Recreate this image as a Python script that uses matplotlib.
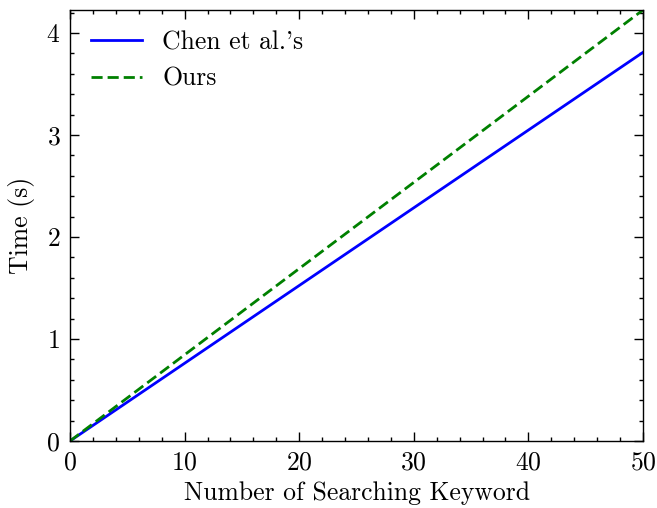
import matplotlib
matplotlib.use("Agg")
import matplotlib.pyplot as plt
from matplotlib.ticker import MultipleLocator

keywords = [0, 10, 20, 30, 40, 50]
chen_time = [0.0, 0.762, 1.524, 2.286, 3.048, 3.81]
ours_time = [0.0, 0.845, 1.69, 2.535, 3.38, 4.225]

plt.rcParams.update({
    "font.family": "serif",
    "font.serif": ["cmr10"],
    "mathtext.fontset": "cm",
    "axes.formatter.use_mathtext": True,
    "font.size": 18.5,
    "axes.linewidth": 1.0,
    "xtick.direction": "in",
    "ytick.direction": "in",
    "xtick.top": True,
    "ytick.right": True,
    "xtick.major.size": 6.5,
    "ytick.major.size": 6.5,
    "xtick.minor.size": 3.2,
    "ytick.minor.size": 3.2,
    "xtick.major.width": 1.0,
    "ytick.major.width": 1.0,
    "xtick.minor.width": 1.0,
    "ytick.minor.width": 1.0,
    "xtick.minor.visible": True,
    "ytick.minor.visible": True,
})

fig = plt.figure(figsize=(6.57, 5.08), dpi=100)
ax = fig.add_axes([70/657, 1 - 441/508, (643-70)/657, (441-10)/508])

ax.plot(keywords, chen_time, color="blue", lw=2.0, label="Chen et al.'s")
ax.plot(keywords, ours_time, color="green", lw=2.0, ls=(0, (4.0, 1.8)), label="Ours")

ax.set_xlim(0, 50)
ax.set_ylim(0, 4.225)
ax.xaxis.set_major_locator(MultipleLocator(10))
ax.xaxis.set_minor_locator(MultipleLocator(2))
ax.yaxis.set_major_locator(MultipleLocator(1))
ax.yaxis.set_minor_locator(MultipleLocator(0.2))
ax.tick_params(which="both", pad=7)

ax.set_xlabel("Number of Searching Keyword", labelpad=5)
ax.set_ylabel("Time (s)", labelpad=8)
ax.legend(loc="upper left", frameon=False, handlelength=2.0, handletextpad=0.8,
          borderaxespad=0.4)

fig.savefig("out.png", dpi=100)
